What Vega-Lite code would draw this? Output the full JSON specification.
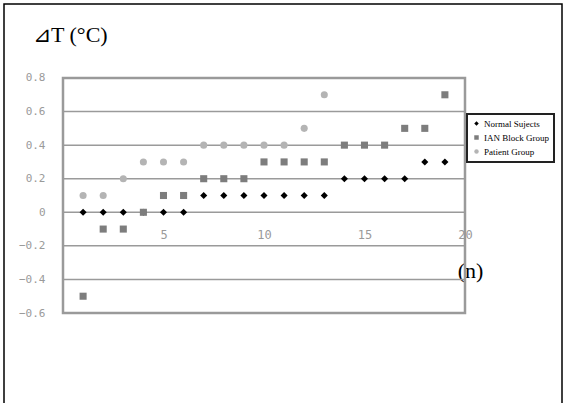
{
  "$schema": "https://vega.github.io/schema/vega-lite/v6.json",
  "width": 558,
  "height": 400,
  "autosize": "none",
  "padding": {"left": 4, "top": 4, "right": 4, "bottom": 0},
  "background": "white",
  "title": {"text": "⊿T (°C)", "anchor": "start", "frame": "group", "orient": "top", "offset": 0, "dx": 29, "dy": 60, "baseline": "alphabetic", "font": "Liberation Serif", "fontSize": 22, "fontWeight": "normal", "color": "#000"},
  "datasets": {
    "pts": [
      {"n": 1, "dT": 0, "group": "Normal Sujects"},
      {"n": 2, "dT": 0, "group": "Normal Sujects"},
      {"n": 3, "dT": 0, "group": "Normal Sujects"},
      {"n": 4, "dT": 0, "group": "Normal Sujects"},
      {"n": 5, "dT": 0, "group": "Normal Sujects"},
      {"n": 6, "dT": 0, "group": "Normal Sujects"},
      {"n": 7, "dT": 0.1, "group": "Normal Sujects"},
      {"n": 8, "dT": 0.1, "group": "Normal Sujects"},
      {"n": 9, "dT": 0.1, "group": "Normal Sujects"},
      {"n": 10, "dT": 0.1, "group": "Normal Sujects"},
      {"n": 11, "dT": 0.1, "group": "Normal Sujects"},
      {"n": 12, "dT": 0.1, "group": "Normal Sujects"},
      {"n": 13, "dT": 0.1, "group": "Normal Sujects"},
      {"n": 14, "dT": 0.2, "group": "Normal Sujects"},
      {"n": 15, "dT": 0.2, "group": "Normal Sujects"},
      {"n": 16, "dT": 0.2, "group": "Normal Sujects"},
      {"n": 17, "dT": 0.2, "group": "Normal Sujects"},
      {"n": 18, "dT": 0.3, "group": "Normal Sujects"},
      {"n": 19, "dT": 0.3, "group": "Normal Sujects"},
      {"n": 1, "dT": -0.5, "group": "IAN Block Group"},
      {"n": 2, "dT": -0.1, "group": "IAN Block Group"},
      {"n": 3, "dT": -0.1, "group": "IAN Block Group"},
      {"n": 4, "dT": 0, "group": "IAN Block Group"},
      {"n": 5, "dT": 0.1, "group": "IAN Block Group"},
      {"n": 6, "dT": 0.1, "group": "IAN Block Group"},
      {"n": 7, "dT": 0.2, "group": "IAN Block Group"},
      {"n": 8, "dT": 0.2, "group": "IAN Block Group"},
      {"n": 9, "dT": 0.2, "group": "IAN Block Group"},
      {"n": 10, "dT": 0.3, "group": "IAN Block Group"},
      {"n": 11, "dT": 0.3, "group": "IAN Block Group"},
      {"n": 12, "dT": 0.3, "group": "IAN Block Group"},
      {"n": 13, "dT": 0.3, "group": "IAN Block Group"},
      {"n": 14, "dT": 0.4, "group": "IAN Block Group"},
      {"n": 15, "dT": 0.4, "group": "IAN Block Group"},
      {"n": 16, "dT": 0.4, "group": "IAN Block Group"},
      {"n": 17, "dT": 0.5, "group": "IAN Block Group"},
      {"n": 18, "dT": 0.5, "group": "IAN Block Group"},
      {"n": 19, "dT": 0.7, "group": "IAN Block Group"},
      {"n": 1, "dT": 0.1, "group": "Patient Group"},
      {"n": 2, "dT": 0.1, "group": "Patient Group"},
      {"n": 3, "dT": 0.2, "group": "Patient Group"},
      {"n": 4, "dT": 0.3, "group": "Patient Group"},
      {"n": 5, "dT": 0.3, "group": "Patient Group"},
      {"n": 6, "dT": 0.3, "group": "Patient Group"},
      {"n": 7, "dT": 0.4, "group": "Patient Group"},
      {"n": 8, "dT": 0.4, "group": "Patient Group"},
      {"n": 9, "dT": 0.4, "group": "Patient Group"},
      {"n": 10, "dT": 0.4, "group": "Patient Group"},
      {"n": 11, "dT": 0.4, "group": "Patient Group"},
      {"n": 12, "dT": 0.5, "group": "Patient Group"},
      {"n": 13, "dT": 0.7, "group": "Patient Group"}
    ],
    "grid": [{"v": 0.6}, {"v": 0.4}, {"v": 0.2}, {"v": 0}, {"v": -0.2}, {"v": -0.4}],
    "frame": [{"x0": 0, "x1": 20, "y0": -0.6, "y1": 0.8}]
  },
  "layer": [
    {
      "data": {"name": "grid"},
      "mark": {"type": "rule", "color": "#9a9a9a", "strokeWidth": 1.5},
      "encoding": {
        "y": {
          "field": "v", "type": "quantitative",
          "scale": {"domain": [-1.1421, 1.2408], "nice": false, "zero": false},
          "axis": {"orient": "left", "offset": -41, "values": [0.8, 0.6, 0.4, 0.2, 0, -0.2, -0.4, -0.6], "labelExpr": "datum.value == 0 ? '0' : format(datum.value, '.1f')", "ticks": false, "domain": false, "grid": false, "labelPadding": 0, "labelFont": "DejaVu Sans Mono", "labelFontSize": 11, "labelColor": "#9a9a9a", "title": null}
        },
        "x": {
          "datum": 0, "type": "quantitative",
          "scale": {"domain": [-2.935, 24.826], "nice": false, "zero": false},
          "axis": {"orient": "bottom", "offset": -191, "values": [5, 10, 15, 20], "ticks": false, "domain": false, "grid": false, "labelPadding": 16, "labelFont": "DejaVu Sans Mono", "labelFontSize": 12, "labelColor": "#9a9a9a", "title": "(n)", "titleX": 466, "titleY": 64, "titleBaseline": "alphabetic", "titleAlign": "center", "titleFont": "Liberation Serif", "titleFontSize": 22, "titleFontWeight": "normal", "titleColor": "#000"}
        },
        "x2": {"datum": 20}
      }
    },
    {
      "data": {"name": "frame"},
      "mark": {"type": "rect", "fillOpacity": 0, "stroke": "#9a9a9a", "strokeWidth": 2.5},
      "encoding": {
        "x": {"field": "x0", "type": "quantitative"},
        "x2": {"field": "x1"},
        "y": {"field": "y0", "type": "quantitative"},
        "y2": {"field": "y1"}
      }
    },
    {
      "data": {"name": "pts"},
      "mark": {"type": "point", "filled": true, "opacity": 1, "size": 50},
      "encoding": {
        "x": {"field": "n", "type": "quantitative"},
        "y": {"field": "dT", "type": "quantitative"},
        "color": {
          "field": "group", "type": "nominal",
          "scale": {"domain": ["Normal Sujects", "IAN Block Group", "Patient Group"], "range": ["#000000", "#7d7d7d", "#b4b4b4"]},
          "legend": {"orient": "none", "legendX": 463, "legendY": 110, "title": null, "strokeColor": "#222", "padding": 5, "labelFont": "Liberation Serif", "labelFontSize": 9, "labelColor": "#000", "symbolSize": 20, "rowPadding": 4, "labelOffset": 3}
        },
        "shape": {
          "field": "group", "type": "nominal",
          "scale": {"domain": ["Normal Sujects", "IAN Block Group", "Patient Group"], "range": ["diamond", "square", "circle"]},
          "legend": null
        }
      }
    }
  ],
  "config": {
    "view": {"stroke": "#000", "strokeWidth": 1.5},
    "legend": {"strokeWidth": 2}
  }
}
